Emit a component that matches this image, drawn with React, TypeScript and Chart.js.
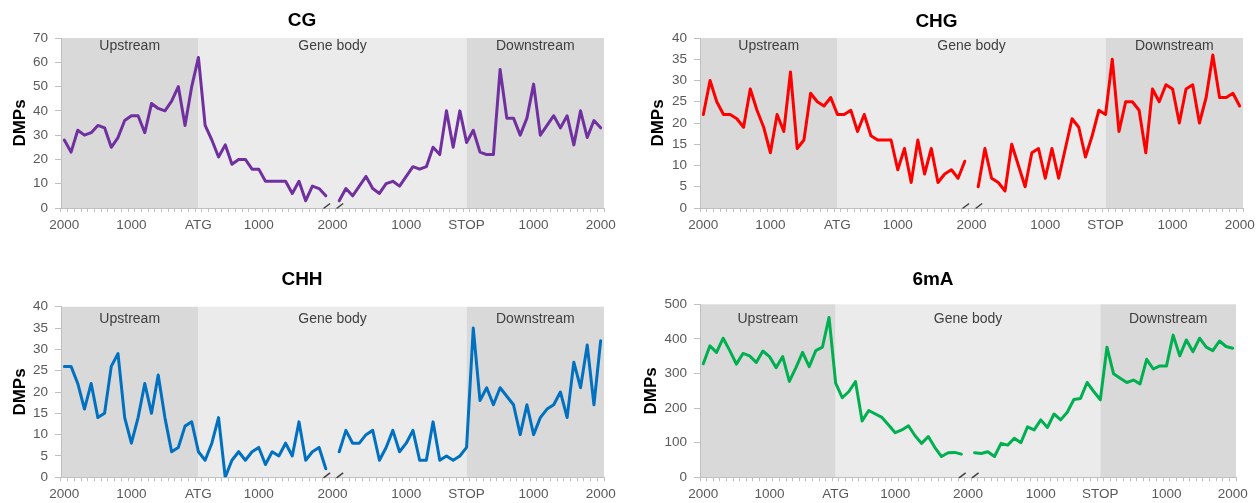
import React, { useEffect, useRef } from 'react';
import { Chart, registerables } from 'chart.js';

Chart.register(...registerables);
Chart.defaults.font.family = '"Liberation Sans", Arial, sans-serif';

// ---- categories / tick labels ----
const categoryCount = 81;
const tickPositions = [0, 10, 20, 29, 40, 51, 60, 70, 80];
const tickTexts = ['2000', '1000', 'ATG', '1000', '2000', '1000', 'STOP', '1000', '2000'];
const regionNames = ['Upstream', 'Gene body', 'Downstream'];
const atgIndex = 20;
const stopIndex = 60;
const breakMarks = [39.15, 41.1];

// ---- series values (index 40 is the break in the gene body) ----
const cgValues = [
  28, 23, 32, 30, 31, 34, 33, 25, 29, 36, 38, 38, 31, 43, 41, 40, 44, 50, 34, 50, 62,
  34, 28, 21, 26, 18, 20, 20, 16, 16, 11, 11, 11, 11, 6, 11, 3, 9, 8, 5,
  null,
  3, 8, 5, 9, 13, 8, 6, 10, 11, 9, 13, 17, 16, 17, 25, 22, 40, 25, 40, 27,
  32, 23, 22, 22, 57, 37, 37, 30, 37, 51, 30, 34, 38, 33, 38, 26, 40, 29, 36, 33,
];
const chgValues = [
  22, 30, 25, 22, 22, 21, 19, 28, 23, 19, 13, 22, 18, 32, 14, 16, 27, 25, 24, 26,
  22, 22, 23, 18, 22, 17, 16, 16, 16, 9, 14, 6, 16, 8, 14, 6, 8, 9, 7, 11,
  null,
  5, 14, 7, 6, 4, 15, 10, 5, 13, 14, 7, 14, 7, 14, 21, 19, 12, 17, 23, 22,
  35, 18, 25, 25, 23, 13, 28, 25, 29, 28, 20, 28, 29, 20, 26, 36, 26, 26, 27, 24,
];
const chhValues = [
  26, 26, 22, 16, 22, 14, 15, 26, 29, 14, 8, 14, 22, 15, 24, 14, 6, 7, 12, 13, 6,
  4, 8, 14, 0, 4, 6, 4, 6, 7, 3, 6, 5, 8, 5, 13, 4, 6, 7, 2,
  null,
  6, 11, 8, 8, 10, 11, 4, 7, 11, 6, 8, 11, 4, 4, 13, 4, 5, 4, 5, 7,
  35, 18, 21, 17, 21, 19, 17, 10, 17, 10, 14, 16, 17, 20, 14, 27, 21, 31, 17, 32,
];
const m6aValues = [
  328, 380, 361, 402, 366, 327, 358, 351, 332, 365, 349, 317, 349, 277, 317, 361, 320, 366, 376, 462,
  272, 230, 248, 277, 163, 193, 183, 173, 151, 129, 137, 149, 120, 98, 118, 86, 60, 71, 72, 67,
  null,
  71, 69, 74, 60, 98, 93, 113, 100, 146, 137, 166, 144, 183, 166, 188, 225, 228, 274, 248, 224,
  376, 299, 286, 274, 281, 270, 341, 313, 322, 322, 411, 351, 397, 363, 402, 376, 366, 394, 378, 373,
];

const panelTitles = ['CG', 'CHG', 'CHH', '6mA'];
const panelColors = ['#7030A0', '#FF0000', '#0070C0', '#00B050'];
const panelMax = [70, 40, 40, 500];
const panelStep = [10, 5, 5, 100];
const panelSeries = [cgValues, chgValues, chhValues, m6aValues];

// ---- layout (canvas geometry, not data) ----
const layouts = [
  { left: 0, top: 0, w: 630, h: 251, aL: 61, aR: 604, aT: 38, aB: 208, titleY: 21, regionY: 45.7, yTitleX: 20 },
  { left: 630, top: 0, w: 630, h: 251, aL: 70, aR: 613, aT: 38, aB: 208, titleY: 21.5, regionY: 45.7, yTitleX: 28 },
  { left: 0, top: 251, w: 630, h: 252, aL: 61, aR: 604, aT: 55.7, aB: 226.3, titleY: 29, regionY: 68, yTitleX: 20 },
  { left: 630, top: 251, w: 630, h: 252, aL: 70, aR: 606, aT: 53.3, aB: 226.3, titleY: 29, regionY: 68, yTitleX: 21 },
];

const categoryLabels = Array.from({ length: categoryCount }, (_, i) => {
  const k = tickPositions.indexOf(i);
  return k >= 0 ? tickTexts[k] : '';
});

const regionPlugin = {
  id: 'regionShading',
  beforeDraw(chart: any, _args: any, opts: any) {
    const { ctx, chartArea, scales } = chart;
    const x = scales.x;
    const xa = x.getPixelForValue(atgIndex);
    const xs = x.getPixelForValue(stopIndex);
    const { left, right, top, bottom } = chartArea;
    ctx.save();
    ctx.fillStyle = '#D9D9D9';
    ctx.fillRect(left, top, xa - left, bottom - top);
    ctx.fillStyle = '#EBEBEB';
    ctx.fillRect(xa, top, xs - xa, bottom - top);
    ctx.fillStyle = '#D9D9D9';
    ctx.fillRect(xs, top, right - xs, bottom - top);
    ctx.font = '14px "Liberation Sans", Arial, sans-serif';
    ctx.fillStyle = '#404040';
    ctx.textAlign = 'center';
    ctx.textBaseline = 'middle';
    const y = opts.labelY;
    ctx.fillText(regionNames[0], (left + xa) / 2, y);
    ctx.fillText(regionNames[1], (xa + xs) / 2, y);
    ctx.fillText(regionNames[2], (xs + right) / 2, y);
    ctx.restore();
  },
  afterDraw(chart: any) {
    const { ctx, chartArea, scales } = chart;
    const x = scales.x;
    ctx.save();
    ctx.strokeStyle = '#404040';
    ctx.lineWidth = 1.5;
    for (const m of breakMarks) {
      const px = x.getPixelForValue(m);
      ctx.beginPath();
      ctx.moveTo(px - 3.3, chartArea.bottom + 0.5);
      ctx.lineTo(px + 3.3, chartArea.bottom - 4.5);
      ctx.stroke();
    }
    ctx.restore();
  },
};

function Panel({ idx }: { idx: number }) {
  const ref = useRef<HTMLCanvasElement>(null);
  const L = layouts[idx];
  useEffect(() => {
    if (!ref.current) return;
    const titleLine = 19 * 1.2;
    const chart = new Chart(ref.current, {
      type: 'line',
      data: {
        labels: categoryLabels,
        datasets: [
          {
            data: panelSeries[idx] as any,
            borderColor: panelColors[idx],
            backgroundColor: panelColors[idx],
            borderWidth: 3,
            pointRadius: 0,
            tension: 0,
            spanGaps: false,
            borderJoinStyle: 'round',
            borderCapStyle: 'round',
          },
        ],
      },
      options: {
        animation: false,
        responsive: false,
        devicePixelRatio: 1,
        layout: { padding: { left: 0, right: L.w - L.aR, top: 0, bottom: 0 } },
        plugins: {
          legend: { display: false },
          tooltip: { enabled: false },
          title: {
            display: true,
            text: panelTitles[idx],
            color: '#000000',
            font: { size: 19, weight: 'bold' },
            padding: { top: L.titleY - titleLine / 2, bottom: L.aT - L.titleY - titleLine / 2 },
          },
          regionShading: { labelY: L.regionY },
        } as any,
        scales: {
          x: {
            type: 'category',
            offset: true,
            grid: { offset: true, drawOnChartArea: false, drawTicks: true, tickLength: 4, color: '#C0C0C0' },
            border: { color: '#C0C0C0' },
            ticks: { autoSkip: false, maxRotation: 0, minRotation: 0, color: '#595959', font: { size: 13.5 }, padding: 5 },
            afterFit: (s: any) => { s.height = L.h - L.aB; },
          },
          y: {
            min: 0,
            max: panelMax[idx],
            grid: { drawOnChartArea: false, drawTicks: true, tickLength: 6, color: '#C0C0C0' },
            border: { color: '#C0C0C0' },
            ticks: { stepSize: panelStep[idx], color: '#595959', font: { size: 13.5 }, padding: 7 },
            title: {
              display: true,
              text: 'DMPs',
              color: '#000000',
              font: { size: 17, weight: 'bold' },
              padding: { top: L.yTitleX - 10.2, bottom: 0 },
            },
            afterFit: (s: any) => { s.width = L.aL; },
          },
        } as any,
      },
      plugins: [regionPlugin],
    });
    return () => chart.destroy();
  }, []);
  return (
    <canvas
      ref={ref}
      width={L.w}
      height={L.h}
      style={{ position: 'absolute', left: L.left, top: L.top, width: L.w, height: L.h }}
    />
  );
}

export default function App() {
  return (
    <div style={{ position: 'fixed', left: 0, top: 0, width: 1260, height: 503, background: '#ffffff' }}>
      {[0, 1, 2, 3].map((i) => (
        <Panel key={i} idx={i} />
      ))}
    </div>
  );
}
